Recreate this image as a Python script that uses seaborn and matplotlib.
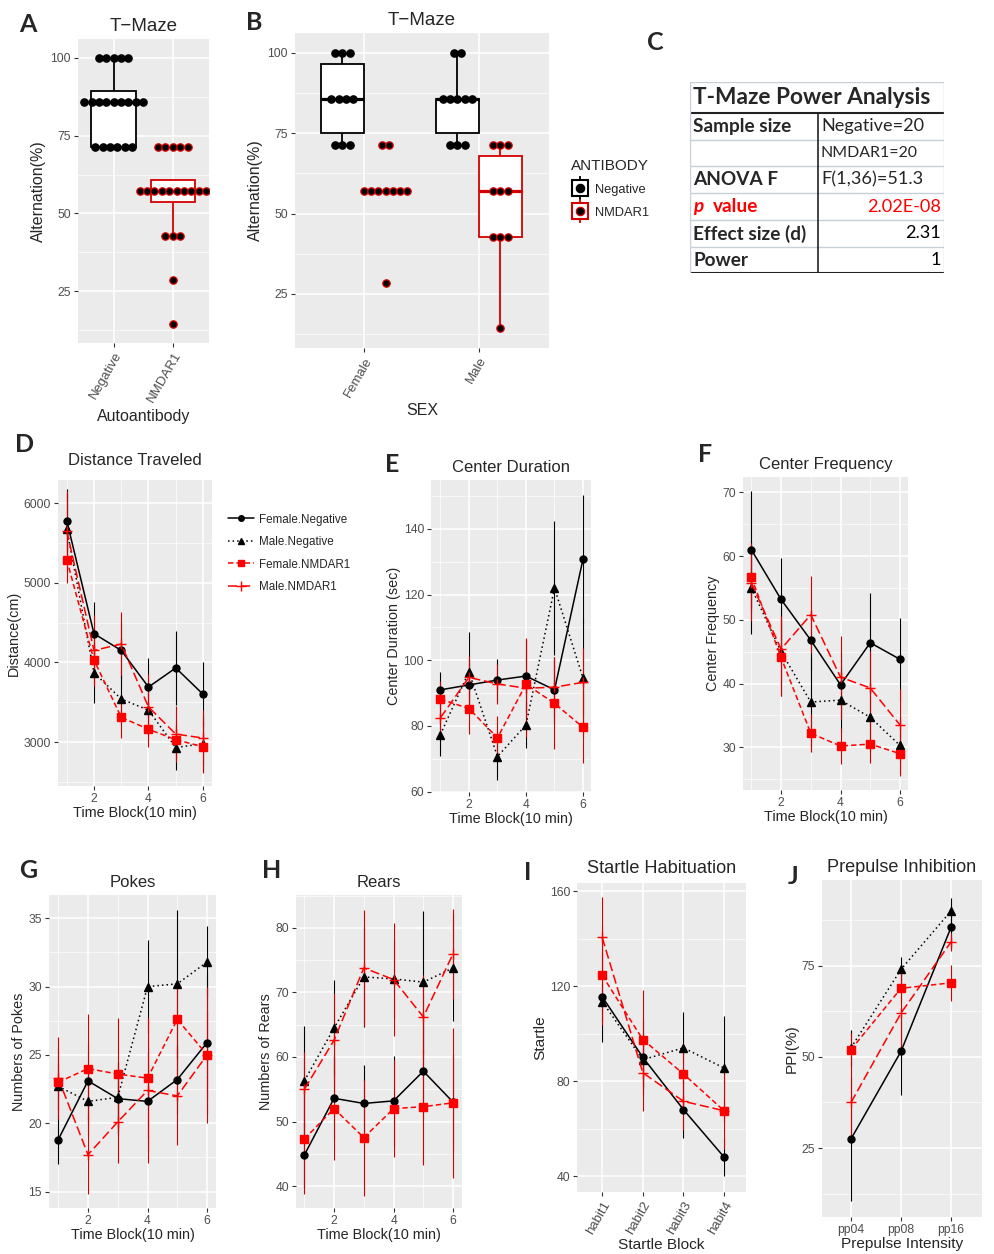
import numpy as np
import pandas as pd
import seaborn as sns
import matplotlib.pyplot as plt
from matplotlib.lines import Line2D
from matplotlib.legend_handler import HandlerTuple
from matplotlib.ticker import MultipleLocator

sns.set_theme(style="darkgrid")
plt.rcParams['font.family'] = ['Liberation Sans', 'DejaVu Sans']

W, H = 995, 1254
BG = '#EBEBEB'
RED = '#FF0000'
ERR_RED = '#D40000'
TICK_C = '#4D4D4D'

# ---------------- T-Maze data (panels A, B, C) ----------------
alt_levels = [100.0, 85.71, 71.43, 57.14, 42.86, 28.57, 14.29]
sex_order = ['Female', 'Male']
ab_order = ['Negative', 'NMDAR1']
# number of mice at each alternation level
n_female_negative = [3, 4, 3, 0, 0, 0, 0]
n_male_negative = [2, 5, 3, 0, 0, 0, 0]
n_female_nmdar1 = [0, 0, 2, 7, 0, 1, 0]
n_male_nmdar1 = [0, 0, 3, 3, 3, 0, 1]

table_title = "T-Maze Power Analysis"
table_left = ["Sample size", "", "ANOVA F", "p value", "Effect size (d)", "Power"]
table_right = ["Negative=20", "NMDAR1=20", "F(1,36)=51.3", "2.02E-08", "2.31", "1"]

# ---------------- open field / startle / PPI (panels D-J) ----------------
groups = ['Female.Negative', 'Male.Negative', 'Female.NMDAR1', 'Male.NMDAR1']
time_blocks = [1, 2, 3, 4, 5, 6]

dist_mean = {'Female.Negative': [5780, 4360, 4150, 3690, 3930, 3600],
             'Male.Negative': [5680, 3870, 3540, 3400, 2930, 2980],
             'Female.NMDAR1': [5290, 4030, 3310, 3160, 3030, 2940],
             'Male.NMDAR1': [5650, 4150, 4230, 3440, 3100, 3050]}
dist_se = {'Female.Negative': [400, 400, 350, 370, 460, 400],
           'Male.Negative': [450, 380, 300, 300, 280, 350],
           'Female.NMDAR1': [300, 330, 260, 220, 250, 330],
           'Male.NMDAR1': [500, 450, 400, 410, 350, 350]}

dur_mean = {'Female.Negative': [91, 92.5, 94, 95.2, 91, 130.8],
            'Male.Negative': [77.4, 96.5, 70.7, 80.3, 122, 94.6],
            'Female.NMDAR1': [88.2, 85.3, 76.4, 92.7, 86.9, 79.6],
            'Male.NMDAR1': [82.5, 94.8, 92.8, 91.5, 91.8, 93.3]}
dur_se = {'Female.Negative': [5.5, 8, 6.5, 11, 10, 19.5],
          'Male.Negative': [6.5, 12, 7, 7, 20.5, 18],
          'Female.NMDAR1': [5.5, 7.7, 6.5, 14, 14, 11],
          'Male.NMDAR1': [6, 6.5, 6, 15, 9, 10.5]}

freq_mean = {'Female.Negative': [61, 53.2, 46.8, 39.8, 46.4, 43.8],
             'Male.Negative': [55, 45, 37.1, 37.4, 34.7, 30.3],
             'Female.NMDAR1': [56.7, 44.1, 32.2, 30.2, 30.5, 29],
             'Male.NMDAR1': [55.8, 45.4, 50.8, 41, 39.3, 33.5]}
freq_se = {'Female.Negative': [9.2, 6.5, 4.7, 5.2, 7.8, 6.5],
           'Male.Negative': [7.3, 7, 7, 5, 5.5, 4.5],
           'Female.NMDAR1': [5.3, 6, 3, 2.8, 3, 3.5],
           'Male.NMDAR1': [6, 5.2, 6, 6.5, 5.8, 5.7]}

pokes_mean = {'Female.Negative': [18.8, 23.1, 21.8, 21.6, 23.2, 25.9],
              'Male.Negative': [22.7, 21.6, 21.9, 30, 30.2, 31.8],
              'Female.NMDAR1': [23, 24, 23.6, 23.3, 27.6, 25],
              'Male.NMDAR1': [23.3, 17.7, 20.1, 22.4, 22, 25]}
pokes_se = {'Female.Negative': [1.8, 2.8, 2.7, 3.6, 2.5, 5.2],
            'Male.Negative': [1.7, 2.5, 2.6, 3.4, 5.4, 2.6],
            'Female.NMDAR1': [2.5, 4, 4.1, 4.4, 2.8, 5],
            'Male.NMDAR1': [3, 2.9, 3, 5.3, 3.6, 3.2]}

rears_mean = {'Female.Negative': [44.8, 53.6, 52.8, 53.2, 57.8, 53],
              'Male.Negative': [56.3, 64.5, 72.4, 72.1, 71.6, 73.8],
              'Female.NMDAR1': [47.3, 52, 47.5, 52, 52.3, 52.9],
              'Male.NMDAR1': [55, 62.6, 73.8, 72, 66.2, 76]}
rears_se = {'Female.Negative': [5, 6.5, 6, 7, 7.5, 7.5],
            'Male.Negative': [8.5, 7.5, 7.7, 6, 11, 8.3],
            'Female.NMDAR1': [8.5, 8, 9, 7.5, 9, 11.6],
            'Male.NMDAR1': [5.8, 7.3, 9, 8.8, 6.5, 7]}

startle_blocks = ['habit1', 'habit2', 'habit3', 'habit4']
startle_mean = {'Female.Negative': [115.5, 90, 68, 48],
                'Male.Negative': [113.5, 89, 94, 85.5],
                'Female.NMDAR1': [124.5, 97.5, 83, 67.5],
                'Male.NMDAR1': [140.5, 83.5, 71.5, 67.5]}
startle_se = {'Female.Negative': [19, 16, 12, 8],
              'Male.Negative': [8, 11, 15, 22],
              'Female.NMDAR1': [21, 21, 13, 16],
              'Male.NMDAR1': [17, 16, 12, 5]}

ppi_levels = ['pp04', 'pp08', 'pp16']
ppi_mean = {'Female.Negative': [27.5, 51.5, 85.5],
            'Male.Negative': [52.5, 74, 90],
            'Female.NMDAR1': [52, 68.8, 70.3],
            'Male.NMDAR1': [37.5, 62, 81.5]}
ppi_se = {'Female.Negative': [17, 12, 6],
          'Male.Negative': [5, 3.5, 3.5],
          'Female.NMDAR1': [4.5, 4, 5],
          'Male.NMDAR1': [11, 11, 2.5]}

COL = {'Female.Negative': 'black', 'Male.Negative': 'black',
       'Female.NMDAR1': RED, 'Male.NMDAR1': RED}
ERRC = {'Female.Negative': 'black', 'Male.Negative': 'black',
        'Female.NMDAR1': ERR_RED, 'Male.NMDAR1': ERR_RED}
LS = {'Female.Negative': '-', 'Male.Negative': (0, (1, 2)),
      'Female.NMDAR1': (0, (3.5, 2)), 'Male.NMDAR1': (0, (6, 2.5))}
MK = {'Female.Negative': 'o', 'Male.Negative': '^',
      'Female.NMDAR1': 's', 'Male.NMDAR1': '+'}
MS = {'Female.Negative': 5, 'Male.Negative': 5.5, 'Female.NMDAR1': 5.5, 'Male.NMDAR1': 7.5}

fig = plt.figure(figsize=(W / 100, H / 100), dpi=100)
fig.patch.set_facecolor('white')


def add_ax(x0, y0, x1, y1):
    return fig.add_axes([x0 / W, 1 - y1 / H, (x1 - x0) / W, (y1 - y0) / H])


def style(ax, xlim, ylim, ymaj, ymin, xmaj=None, xmin=None):
    ax.set_facecolor(BG)
    ax.set_xlim(*xlim)
    ax.set_ylim(*ylim)
    ax.yaxis.set_major_locator(MultipleLocator(ymaj))
    ax.yaxis.set_minor_locator(MultipleLocator(ymin))
    if xmaj:
        ax.xaxis.set_major_locator(MultipleLocator(xmaj))
    if xmin:
        ax.xaxis.set_minor_locator(MultipleLocator(xmin))
    ax.grid(True, which='major', color='white', lw=1.1)
    ax.grid(True, which='minor', color='white', lw=0.5)
    ax.set_axisbelow(True)
    for s in ax.spines.values():
        s.set_visible(False)
    ax.tick_params(which='major', bottom=True, left=True, length=3, width=0.8,
                   color='#333333', labelsize=8.7, labelcolor=TICK_C, pad=2)
    ax.tick_params(which='minor', bottom=False, left=False, length=0)


def rot_ticks(ax, pos, labs):
    ax.set_xticks(pos, labs, rotation=60, ha='right', rotation_mode='anchor', fontsize=9.5)


def letter(x, y, s):
    fig.text(x / W, 1 - y / H, s, fontsize=18, fontweight='bold', family='Lato',
             ha='center', va='center')


def stack_offsets(values, spacing):
    out = np.zeros(len(values))
    for v in np.unique(values):
        idx = np.where(values == v)[0]
        out[idx] = (np.arange(len(idx)) - (len(idx) - 1) / 2) * spacing
    return out


# T-Maze long table
rows = []
for sex, ab, counts in [('Female', 'Negative', n_female_negative), ('Male', 'Negative', n_male_negative),
                        ('Female', 'NMDAR1', n_female_nmdar1), ('Male', 'NMDAR1', n_male_nmdar1)]:
    for v in np.repeat(alt_levels, counts):
        rows.append((sex, ab, v))
tm = pd.DataFrame(rows, columns=['SEX', 'ANTIBODY', 'Alternation'])
EDGE = {'Negative': 'black', 'NMDAR1': '#D40000'}

# ---- A ----
axA = add_ax(78, 39, 209, 343)
for i, ab in enumerate(ab_order):
    sub = tm[tm.ANTIBODY == ab]
    sns.boxplot(data=sub, x='ANTIBODY', y='Alternation', order=ab_order, color='white',
                linecolor=EDGE[ab], linewidth=1.3, width=0.75, showfliers=False, showcaps=False,
                medianprops={'linewidth': 2.3}, ax=axA)
    vals = sub.Alternation.values
    sns.scatterplot(x=i + stack_offsets(vals, 0.124), y=vals, color='black', edgecolor=EDGE[ab],
                    s=28, linewidth=0.9, ax=axA, legend=False, zorder=4)
style(axA, (-0.6, 1.61), (8.3, 106.1), 25, 12.5)
rot_ticks(axA, [0, 1], ab_order)
axA.set_title('T\u2212Maze', fontsize=13.5, pad=6)
axA.set_xlabel('Autoantibody', fontsize=11.5, labelpad=3)
axA.set_ylabel('Alternation(%)', fontsize=11.5, labelpad=3)
letter(28, 25, 'A')

# ---- B ----
axB = add_ax(295, 33, 549, 348)
for ab, dx in zip(ab_order, [-0.1875, 0.1875]):
    sub = tm[tm.ANTIBODY == ab]
    sns.boxplot(data=sub, x='SEX', y='Alternation', order=sex_order, hue='ANTIBODY', hue_order=ab_order,
                dodge=True, palette={'Negative': 'white', 'NMDAR1': 'white'}, linecolor=EDGE[ab],
                linewidth=1.3, width=0.75, showfliers=False, showcaps=False,
                medianprops={'linewidth': 2.3}, legend=False, ax=axB)
    for j, sex in enumerate(sex_order):
        vals = sub[sub.SEX == sex].Alternation.values
        sns.scatterplot(x=j + dx + stack_offsets(vals, 0.0635), y=vals, color='black',
                        edgecolor=EDGE[ab], s=28, linewidth=0.9, ax=axB, legend=False, zorder=4)
style(axB, (-0.6, 1.61), (8.2, 106.2), 25, 12.5)
rot_ticks(axB, [0, 1], sex_order)
axB.set_title('T\u2212Maze', fontsize=13.5, pad=6)
axB.set_xlabel('SEX', fontsize=11.5, labelpad=3)
axB.set_ylabel('Alternation(%)', fontsize=11.5, labelpad=3)
letter(254, 22, 'B')

hb = [(Line2D([], [], color=EDGE[ab], marker='|', ms=17, mew=1.3, ls='none'),
       Line2D([], [], marker='s', ms=11, mfc='white', mec=EDGE[ab], mew=1.5, ls='none'),
       Line2D([], [], marker='o', ms=6, mfc='black', mec=EDGE[ab], mew=0.9, ls='none')) for ab in ab_order]
fig.legend(hb, ab_order, handler_map={tuple: HandlerTuple(ndivide=1)}, title='ANTIBODY',
           loc='upper left', bbox_to_anchor=(559 / W, 1 - 147 / H), frameon=False, fontsize=9.3,
           title_fontsize=11, alignment='left', handlelength=1.4, handletextpad=0.5, labelspacing=0.85)

# ---- C (table) ----
axC = add_ax(690, 82, 944, 273)
axC.set_xlim(0, 254)
axC.set_ylim(191, 0)
axC.axis('off')
light = '#C9CFD9'
row_lines = [0, 31, 58, 84, 111, 138, 165, 191]
for yl in row_lines:
    dark = yl in (31, 191)
    axC.plot([0, 254], [yl, yl], color='#222222' if dark else light, lw=1.5 if dark else 1.0)
axC.plot([0, 0], [0, 191], color=light, lw=1.0)
axC.plot([254, 254], [0, 191], color=light, lw=1.0)
axC.plot([128, 128], [31, 191], color='#222222', lw=1.2)
axC.text(3.5, 16, table_title, fontsize=16.3, fontweight='bold', family='Lato', va='center')
for k in range(6):
    yc = (row_lines[k + 1] + row_lines[k + 2]) / 2
    left = table_left[k]
    right = table_right[k]
    if left == 'p value':
        axC.text(3.5, yc, 'p', fontsize=13.7, fontweight='bold', style='italic', family='Lato',
                 color=RED, va='center')
        axC.text(22.5, yc, 'value', fontsize=13.7, fontweight='bold', family='Lato', color=RED,
                 va='center')
    else:
        axC.text(3.5, yc, left, fontsize=13.7, fontweight='bold', family='Lato', va='center')
    if k < 3:
        axC.text(131, yc, right, fontsize=13.1 if k != 1 else 11.4, family='Lato', va='center')
    else:
        axC.text(251, yc, right, fontsize=13.1, family='Lato', va='center', ha='right',
                 color=RED if k == 3 else 'black')
letter(655, 42, 'C')


def line_panel(ax, xs, means, ses):
    for g in groups:
        d = pd.DataFrame({'x': xs, 'y': means[g], 'se': ses[g]})
        ax.vlines(d['x'], d['y'] - d['se'], d['y'] + d['se'], color=ERRC[g], lw=0.8, zorder=2)
        sns.lineplot(data=d, x='x', y='y', color=COL[g], linestyle=LS[g], marker=MK[g], ms=MS[g],
                     mec=COL[g], mew=1.0, lw=1.1, errorbar=None, ax=ax, zorder=3)


def labels(ax, title, xl, yl, pad=6, tsize=12, lsize=10.4):
    ax.set_title(title, fontsize=tsize, pad=pad)
    ax.set_xlabel(xl, fontsize=lsize, labelpad=1)
    ax.set_ylabel(yl, fontsize=lsize, labelpad=2)


# ---- D ----
axD = add_ax(58, 480, 212, 786)
line_panel(axD, time_blocks, dist_mean, dist_se)
style(axD, (0.68, 6.33), (2448, 6289), 1000, 500, 2, 1)
labels(axD, 'Distance Traveled', 'Time Block(10 min)', 'Distance(cm)', pad=11)
letter(25, 445, 'D')
hd = [Line2D([], [], color=COL[g], linestyle=LS[g], marker=MK[g], ms=MS[g] - 1, mec=COL[g], lw=1.1)
      for g in groups]
fig.legend(hd, groups, loc='upper left', bbox_to_anchor=(218 / W, 1 - 503 / H), frameon=False,
           fontsize=8.4, handlelength=2.2, labelspacing=0.9, handletextpad=0.4)

# ---- E ----
axE = add_ax(431, 480, 591, 792)
line_panel(axE, time_blocks, dur_mean, dur_se)
style(axE, (0.67, 6.28), (59.9, 154.9), 20, 10, 2, 1)
labels(axE, 'Center Duration', 'Time Block(10 min)', 'Center Duration (sec)')
letter(392, 465, 'E')

# ---- F ----
axF = add_ax(743, 477, 908, 790)
line_panel(axF, time_blocks, freq_mean, freq_se)
style(axF, (0.72, 6.27), (23.3, 72.4), 10, 5, 2, 1)
labels(axF, 'Center Frequency', 'Time Block(10 min)', 'Center Frequency')
letter(705, 455, 'F')

# ---- G ----
axG = add_ax(49, 895, 216, 1208)
line_panel(axG, time_blocks, pokes_mean, pokes_se)
style(axG, (0.69, 6.3), (13.8, 36.7), 5, 2.5, 2, 1)
labels(axG, 'Pokes', 'Time Block(10 min)', 'Numbers of Pokes')
letter(28, 870, 'G')

# ---- H ----
axH = add_ax(296, 895, 462, 1208)
line_panel(axH, time_blocks, rears_mean, rears_se)
style(axH, (0.72, 6.3), (36.6, 85.1), 10, 5, 2, 1)
labels(axH, 'Rears', 'Time Block(10 min)', 'Numbers of Rears')
letter(272, 870, 'H')

# ---- I ----
axI = add_ax(577, 883, 746, 1192)
pos_i = list(range(1, len(startle_blocks) + 1))
line_panel(axI, pos_i, startle_mean, startle_se)
style(axI, (0.38, 4.54), (33.3, 163.4), 40, 20)
rot_ticks(axI, pos_i, startle_blocks)
labels(axI, 'Startle Habituation', 'Startle Block', 'Startle', pad=7, tsize=13.1, lsize=11.1)
letter(528, 872, 'I')

# ---- J ----
axJ = add_ax(822, 880, 982, 1217)
pos_j = list(range(1, len(ppi_levels) + 1))
line_panel(axJ, pos_j, ppi_mean, ppi_se)
style(axJ, (0.42, 3.62), (6.1, 98.5), 25, 12.5)
axJ.set_xticks(pos_j, ppi_levels)
labels(axJ, 'Prepulse Inhibition', 'Prepulse Intensity', 'PPI(%)', tsize=13.1, lsize=11.1)
letter(793, 877, 'J')

fig.savefig('out.png', dpi=100, facecolor='white')
plt.close(fig)
